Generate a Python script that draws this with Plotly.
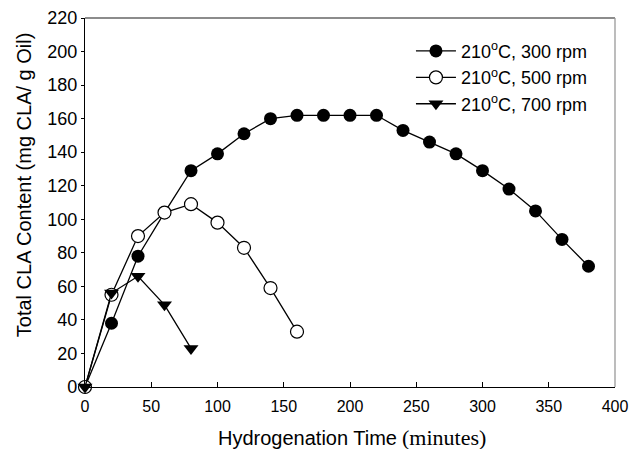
import plotly.graph_objects as go

# hydrogenation time (minutes) and CLA content (mg CLA / g oil)
time_300 = [0, 20, 40, 60, 80, 100, 120, 140, 160, 180, 200, 220, 240, 260, 280, 300, 320, 340, 360, 380]
cla_300 = [0, 38, 78, 104, 129, 139, 151, 160, 162, 162, 162, 162, 153, 146, 139, 129, 118, 105, 88, 72]

time_500 = [0, 20, 40, 60, 80, 100, 120, 140, 160]
cla_500 = [0, 55, 90, 104, 109, 98, 83, 59, 33]

time_700 = [0, 20, 40, 60, 80]
cla_700 = [0, 56, 66, 49, 23]

labels = ["210<sup>o</sup>C, 300 rpm", "210<sup>o</sup>C, 500 rpm", "210<sup>o</sup>C, 700 rpm"]

fig = go.Figure()
fig.add_trace(go.Scatter(
    x=time_300, y=cla_300, name=labels[0], mode="lines+markers",
    line=dict(color="black", width=1.3),
    marker=dict(symbol="circle", size=13, color="black"),
    cliponaxis=False,
))
fig.add_trace(go.Scatter(
    x=time_500, y=cla_500, name=labels[1], mode="lines+markers",
    line=dict(color="black", width=1.3),
    marker=dict(symbol="circle", size=13, color="white", line=dict(color="black", width=1.2)),
    cliponaxis=False,
))
fig.add_trace(go.Scatter(
    x=time_700, y=cla_700, name=labels[2], mode="lines+markers",
    line=dict(color="black", width=1.3),
    marker=dict(symbol="triangle-down", size=13, color="black"),
    cliponaxis=False,
))

fig.update_xaxes(
    range=[0, 400], tickvals=list(range(0, 401, 50)),
    ticks="inside", ticklen=5, tickcolor="black",
    showline=True, linecolor="black", linewidth=1.3, mirror=False,
    showgrid=False, zeroline=False, automargin=False,
    ticklabelstandoff=5,
    tickfont=dict(family="Liberation Sans, Arial", size=16, color="black"),
)
fig.update_yaxes(
    range=[0, 220], tickvals=list(range(0, 221, 20)),
    ticks="outside", ticklen=3, tickcolor="black",
    showline=True, linecolor="black", linewidth=1.3,
    showgrid=False, zeroline=False, automargin=False,
    tickfont=dict(family="Liberation Sans, Arial", size=18, color="black"),
)

# axis titles (x title mixes a sans and a serif font)
fig.add_annotation(text="Hydrogenation Time", xref="paper", yref="paper",
                   x=0.592, y=-0.138, xanchor="right", yanchor="middle", showarrow=False,
                   font=dict(family="Liberation Sans, Arial", size=20, color="black"))
fig.add_annotation(text="(minutes)", xref="paper", yref="paper",
                   x=0.595, y=-0.138, xanchor="left", yanchor="middle", showarrow=False,
                   font=dict(family="Liberation Serif, Times New Roman, serif", size=22, color="black"))
fig.add_annotation(text="Total CLA Content (mg CLA/ g Oil)", xref="paper", yref="paper",
                   x=-0.115, y=0.547, xanchor="center", yanchor="middle", showarrow=False,
                   textangle=-90,
                   font=dict(family="Liberation Sans, Arial", size=20, color="black"))

# grey frame on top and right
fig.add_shape(type="line", xref="paper", yref="paper", x0=0, x1=1, y0=1, y1=1,
              line=dict(color="#666666", width=1.3))
fig.add_shape(type="line", xref="paper", yref="paper", x0=1, x1=1, y0=0, y1=1,
              line=dict(color="#999999", width=1.3))

fig.update_layout(
    width=631, height=449,
    margin=dict(l=85, r=16, t=18, b=62, autoexpand=False),
    paper_bgcolor="white", plot_bgcolor="white",
    font=dict(family="Liberation Sans, Arial", color="black"),
    legend=dict(
        x=0.615, y=0.96, xanchor="left", yanchor="top",
        bgcolor="rgba(0,0,0,0)",
        font=dict(family="Liberation Sans, Arial", size=18, color="black"),
        itemwidth=40, tracegroupgap=0,
    ),
)

fig.write_html("out.html", config={"displayModeBar": False},
               post_script="document.body.style.margin='0';document.body.style.overflow='hidden';")
